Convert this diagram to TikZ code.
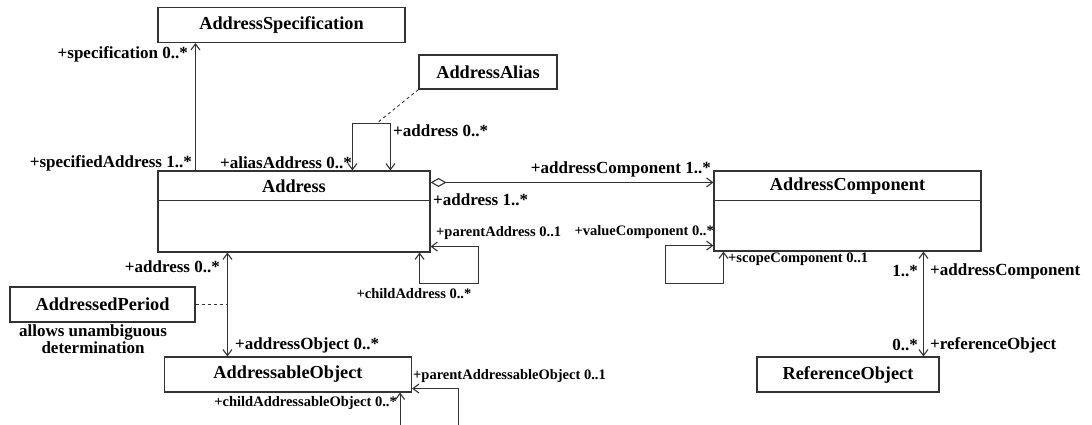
\documentclass[tikz,border=0pt]{standalone}
\usepackage{fontspec}
\setmainfont{Liberation Serif}
\usetikzlibrary{arrows.meta,calc}
\tikzset{
 cls/.style={draw=black!80, line width=1.1pt, rectangle, inner sep=0pt, font=\bfseries\fontsize{18.3}{20}\selectfont},
 ttl/.style={inner sep=0pt, font=\bfseries\fontsize{18.3}{20}\selectfont},
 lbl/.style={inner sep=0pt, font=\bfseries\fontsize{17}{19}\selectfont},
 slbl/.style={inner sep=0pt, font=\bfseries\fontsize{14.5}{16}\selectfont},
 conn/.style={line width=1.1pt, draw=black!80},
 tipb/.tip={Straight Barb[length=6pt,width=9pt,line width=1.1pt]},
 nav/.style={conn, -tipb},
 both/.style={conn, tipb-tipb},
 agg/.style={conn, {Diamond[open,length=16pt,width=9pt,line width=1.1pt]}-tipb},
 notel/.style={conn, dashed, line width=0.9pt}
}
\begin{document}
\begin{tikzpicture}[x=1pt,y=-1pt]
\useasboundingbox (0,0) rectangle (1092,424);
\begin{scope}
\clip (0,0) rectangle (1092,424);
% classes
\node[cls, minimum width=247pt, minimum height=35pt] (spec) at (281.5,25) {AddressSpecification};
\node[cls, minimum width=138pt, minimum height=34pt] (alias) at (488,72) {AddressAlias};
\node[cls, minimum width=272pt, minimum height=81pt] (addr) at (294,211.5) {};
\node[ttl] (addrT) at (294,186) {Address};
\draw[conn] ($(addr.north west)+(0,30)$) -- ($(addr.north east)+(0,30)$);
\node[cls, minimum width=267pt, minimum height=80pt] (comp) at (847.5,211) {};
\node[ttl] (compT) at (847.5,186) {AddressComponent};
\draw[conn] ($(comp.north west)+(0,30)$) -- ($(comp.north east)+(0,30)$);
\node[cls, minimum width=185pt, minimum height=35pt] (per) at (102.5,304.5) {AddressedPeriod};
\node[lbl, align=center, font=\bfseries\fontsize{17}{14.5}\selectfont] (perNote) at (93,339) {allows unambiguous\\determination};
\node[cls, minimum width=247pt, minimum height=35pt] (obj) at (288,374.5) {AddressableObject};
\node[cls, minimum width=182pt, minimum height=35pt] (ref) at (848,374.5) {ReferenceObject};

% specification
\coordinate (sA) at ($(addr.north west)+(38,0)$);
\draw[nav] (sA) -- (sA |- spec.south);
\node[lbl, anchor=east] (l1) at (188,54) {+specification 0..*};
\node[lbl, anchor=east] (l2) at (192,163) {+specifiedAddress 1..*};

% alias loop
\coordinate (aL) at ($(addr.north west)+(195,0)$);
\coordinate (aR) at ($(addr.north west)+(233,0)$);
\coordinate (aTop) at ($(aL)+(24,-47)$);
\draw[both] (aL) -- ++(0,-47) -| (aR);
\draw[notel] (alias.south west) -- (aTop);
\node[lbl, anchor=east] (l3) at (352,163) {+aliasAddress 0..*};
\node[lbl, anchor=west] (l4) at (393,131) {+address 0..*};

% aggregation
\coordinate (gA) at ($(addr.north east)+(0,12)$);
\draw[agg] (gA) -- (gA -| comp.west);
\node[lbl, anchor=east] (l5) at (711,169) {+addressComponent 1..*};
\node[lbl, anchor=west] (l6) at (433,200) {+address 1..*};

% address self loop
\coordinate (pS) at ($(addr.south east)+(-11,0)$);
\coordinate (pE) at ($(addr.south east)+(0,-6)$);
\draw[both] (pS) -- ++(0,31) -| ($(pE)+(48,0)$) -- (pE);
\node[slbl, anchor=west] (l7) at (436,233) {+parentAddress 0..1};
\node[slbl] (l8) at (414,294) {+childAddress 0..*};

% component self loop
\coordinate (vS) at ($(comp.south west)+(0,-6)$);
\coordinate (vE) at ($(comp.south west)+(10,0)$);
\draw[both] (vS) -- ++(-48,0) |- ($(vE)+(0,32)$) -- (vE);
\node[slbl, anchor=east] (l9) at (714,232) {+valueComponent 0..*};
\node[slbl, anchor=west] (l10) at (728,259) {+scopeComponent 0..1};

% component - reference
\coordinate (rT) at ($(comp.south west)+(210,0)$);
\draw[both] (rT) -- (rT |- ref.north);
\node[lbl, anchor=east] (l11) at (918,271) {1..*};
\node[lbl, anchor=west] (l12) at (930,271) {+addressComponent};
\node[lbl, anchor=east] (l13) at (918,345) {0..*};
\node[lbl, anchor=west] (l14) at (930,345) {+referenceObject};

% address - addressable object
\coordinate (oT) at ($(addr.south west)+(70,0)$);
\draw[both] (oT) -- (oT |- obj.north);
\draw[notel] (per.east) -- (per.east -| oT);
\node[lbl, anchor=east] (l15) at (220,267) {+address 0..*};
\node[lbl, anchor=west] (l16) at (235,345) {+addressObject 0..*};

% addressable object self loop
\coordinate (qE) at ($(obj.south east)+(0,-4)$);
\coordinate (qS) at ($(obj.south east)+(-12,0)$);
\draw[both] (qS) -- ++(0,45) -| ($(qE)+(46,0)$) -- (qE);
\node[slbl, anchor=west] (l17) at (413,376) {+parentAddressableObject 0..1};
\node[slbl, anchor=east] (l18) at (397,403) {+childAddressableObject 0..*};
\end{scope}
\end{tikzpicture}
\end{document}
